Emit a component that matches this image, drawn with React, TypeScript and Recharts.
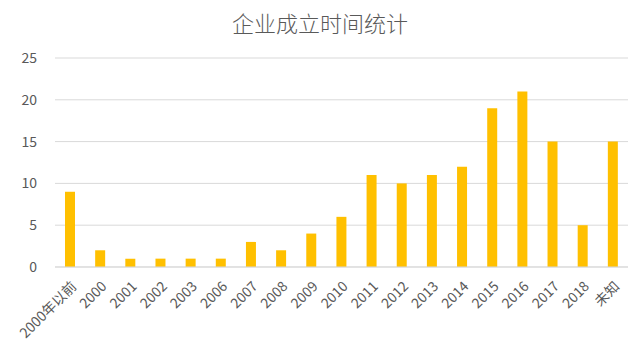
import { BarChart, Bar, XAxis, YAxis, CartesianGrid } from 'recharts';

const categories = ['2000年以前', '2000', '2001', '2002', '2003', '2006', '2007', '2008', '2009', '2010', '2011', '2012', '2013', '2014', '2015', '2016', '2017', '2018', '未知'];
const counts = [9, 2, 1, 1, 1, 1, 3, 2, 4, 6, 11, 10, 11, 12, 19, 21, 15, 5, 15];
const yTicks = [0, 5, 10, 15, 20, 25];

const data = categories.map((name, i) => ({ name, count: counts[i] }));

const FONT = '"Noto Sans CJK SC", "Noto Sans", sans-serif';

// rotated category labels, anchored at their end like the original
const AngledTick = ({ x, y, payload }: any) => (
  <g transform={`translate(${x + 1},${y + 6})`}>
    <text
      transform="rotate(-45)"
      textAnchor="end"
      dy={9}
      fontSize={14}
      fill="#595959"
      fontFamily={FONT}
    >
      {payload.value}
    </text>
  </g>
);

export default function App() {
  return (
    <div style={{ position: 'fixed', top: 0, left: 0, width: 640, height: 353, background: '#fff' }}>
      <div
        style={{
          position: 'absolute',
          top: 7,
          left: 0,
          width: 640,
          textAlign: 'center',
          fontFamily: FONT,
          fontSize: 22,
          fontWeight: 300,
          color: '#595959',
          lineHeight: '30px',
        }}
      >
        企业成立时间统计
      </div>
      <BarChart width={640} height={353} data={data} margin={{ top: 58, right: 12, left: 0, bottom: 0 }}>
        <CartesianGrid vertical={false} stroke="#D9D9D9" />
        <XAxis
          dataKey="name"
          interval={0}
          height={86}
          tickLine={false}
          stroke="#D9D9D9"
          tick={<AngledTick />}
        />
        <YAxis
          width={55}
          domain={[0, 25]}
          ticks={yTicks}
          axisLine={false}
          tickLine={false}
          tick={{ fill: '#595959', fontSize: 14, fontFamily: FONT }}
          tickMargin={12}
        />
        <Bar dataKey="count" fill="#FFC000" barSize={10} isAnimationActive={false} />
      </BarChart>
    </div>
  );
}
